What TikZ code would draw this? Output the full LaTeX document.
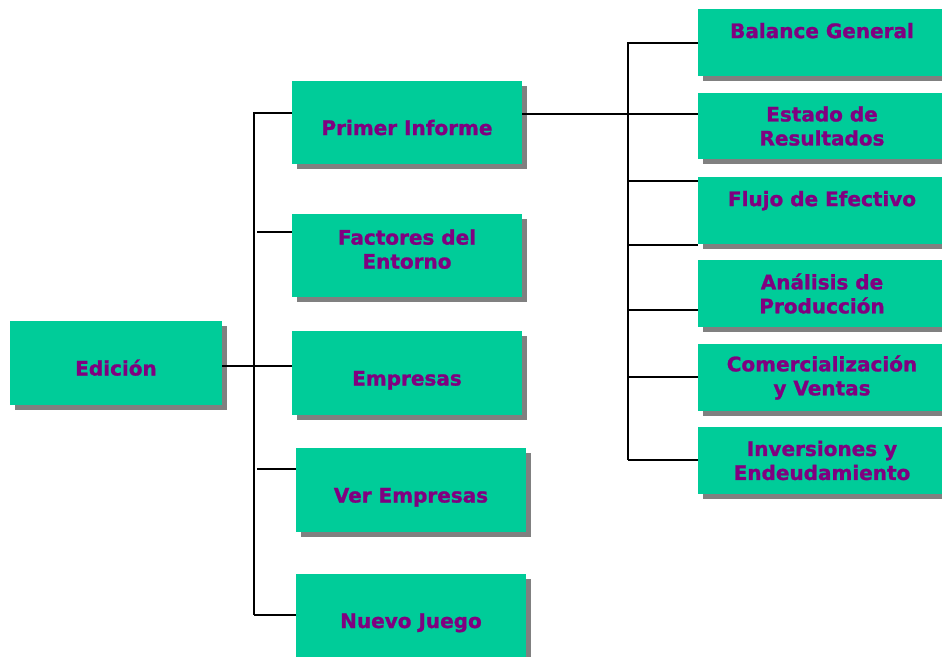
\documentclass[tikz,border=0pt]{standalone}
\usepackage{fontspec}
\setmainfont[BoldFeatures={FakeBold=1.2}]{DejaVu Sans}
\usetikzlibrary{shadows}
\definecolor{boxgreen}{RGB}{0,204,153}
\definecolor{txtpurple}{RGB}{128,0,128}
\definecolor{shadowgray}{RGB}{128,128,128}
\begin{document}
\begin{tikzpicture}[x=1pt,y=-1pt,
  box/.style={draw=none, fill=boxgreen, text=txtpurple,
    font=\fontsize{20}{24}\selectfont\bfseries, align=center, inner sep=0pt,
    general shadow={fill=shadowgray, shadow xshift=5pt, shadow yshift=-5pt}},
  lbox/.style={box, minimum width=230pt},
  rbox/.style={box, minimum width=248pt, minimum height=67pt},
  lowtext/.style={text height=25pt, text depth=0pt},
  link/.style={line width=2pt, black}]
\useasboundingbox (0,0) rectangle (942,656);
\clip (0,0) rectangle (942,656);

% left part
\node[box, minimum width=212pt, minimum height=84pt, lowtext] (ed) at (116,363) {Edición};
\node[lbox, minimum height=83pt, lowtext] (pi) at (407,122.5) {Primer Informe};
\node[lbox, minimum height=83pt] (fe) at (407,255.5) {Factores del\\Entorno\\[-11pt]\mbox{}};
\node[lbox, minimum height=84pt, lowtext] (em) at (407,373) {Empresas};
\node[lbox, minimum height=84pt, lowtext] (ve) at (411,490) {Ver Empresas};
\node[lbox, minimum height=83pt, lowtext] (nj) at (411,615.5) {Nuevo Juego};

% right part
\node[rbox] (bg) at (822,42.5) {Balance General\\\mbox{}};
\node[rbox, minimum height=66pt] (er) at (822,126) {Estado de\\Resultados};
\node[rbox] (fl) at (822,210.5) {Flujo de Efectivo\\\mbox{}};
\node[rbox] (an) at (822,293.5) {Análisis de\\Producción};
\node[rbox] (co) at (822,377.5) {Comercialización\\y Ventas};
\node[rbox] (inv) at (822,460.5) {Inversiones y\\Endeudamiento};

% trunk bottoms
\coordinate (lb) at (254,615);
\coordinate (rb) at (628,460);

% left connectors
\draw[link] ([yshift=9.5pt]pi.west) -| (lb);
\draw[link] (lb) -- (lb -| nj.west);
\draw[link] ([yshift=23.5pt]fe.west) -- ++(-35pt,0);
\draw[link] ([yshift=-3pt]ed.east) -- ([yshift=7pt]em.west);
\draw[link] ([yshift=21pt]ve.west) -- ++(-39pt,0);

% right connectors
\draw[link] ([yshift=-0.5pt]bg.west) -| (rb);
\draw[link] (rb) -- (rb -| inv.west);
\draw[link] ([yshift=8.5pt]pi.east) -- ([yshift=12pt]er.west);
\draw[link] ([yshift=29.5pt]fl.west) -- ([yshift=29.5pt]fl.west -| rb);
\draw[link] ([yshift=-1pt]fl.south west) -- ([yshift=-1pt]fl.south west -| rb);
\draw[link] ([yshift=-16.5pt]an.west) -- ([yshift=-16.5pt]an.west -| rb);
\draw[link] ([yshift=0.5pt]co.west) -- ([yshift=0.5pt]co.west -| rb);
\end{tikzpicture}
\end{document}
